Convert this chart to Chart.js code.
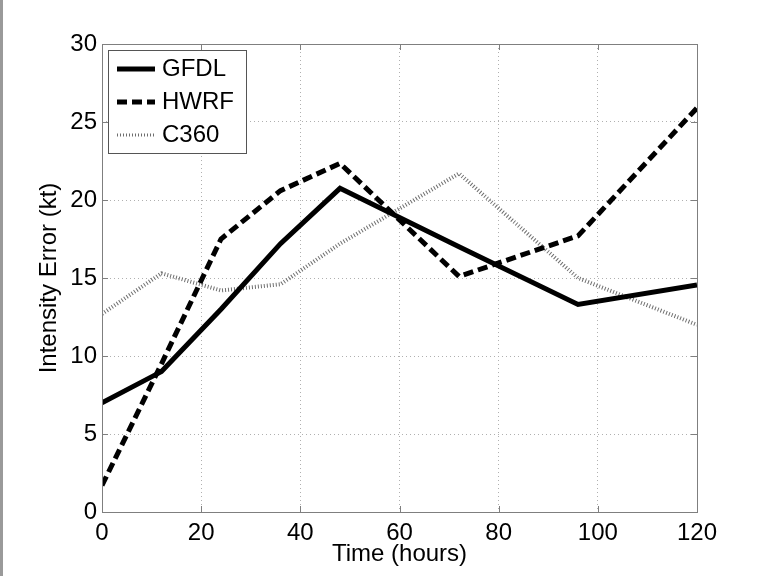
<!DOCTYPE html>
<html>
<head>
<meta charset="utf-8">
<script src="https://cdn.jsdelivr.net/npm/chart.js@4/dist/chart.umd.min.js"></script>
<style>
  html, body { margin: 0; padding: 0; background: #fff; }
  #wrap { width: 769px; height: 576px; position: relative; }
</style>
</head>
<body>
<div id="wrap"><canvas id="c" width="769" height="576"></canvas></div>
<script>
// valeurs
const hours = [0, 12, 24, 36, 48, 72, 96, 120];
const gfdl = [7.0, 9.0, 13.0, 17.2, 20.75, 17.0, 13.3, 14.55];
const hwrf = [1.7, 9.5, 17.5, 20.6, 22.35, 15.1, 17.7, 25.9];
const c360 = [12.7, 15.3, 14.2, 14.6, 17.2, 21.7, 15.0, 12.0];
const xTicks = [0, 20, 40, 60, 80, 100, 120];
const yTicks = [0, 5, 10, 15, 20, 25, 30];

const FONT = 'Liberation Sans, Arial, Helvetica, sans-serif';

function pts(ys) {
  return hours.map((h, i) => ({ x: h, y: ys[i] }));
}

const series = [
  { label: 'GFDL', data: gfdl, color: '#000', width: 5, dash: [] },
  { label: 'HWRF', data: hwrf, color: '#000', width: 5, dash: [10, 5] },
  { label: 'C360', data: c360, color: '#6e6e6e', width: 4, dash: [1, 2] }
];

// cadre, petites graduations et légende façon matlab
const matlabBox = {
  id: 'matlabBox',
  beforeDraw(chart) {
    const ctx = chart.ctx;
    ctx.save();
    ctx.fillStyle = '#9a9a9a';
    ctx.fillRect(0, 0, 3, chart.height);
    ctx.restore();
  },
  afterDraw(chart) {
    const { ctx, chartArea: a } = chart;
    const xs = chart.scales.x, ys = chart.scales.y;
    ctx.save();
    ctx.strokeStyle = '#7f7f7f';
    ctx.lineWidth = 1;
    ctx.setLineDash([]);
    ctx.strokeRect(a.left + 0.5, a.top + 0.5, a.right - a.left, a.bottom - a.top);
    const tl = 6;
    ctx.beginPath();
    xTicks.forEach(v => {
      const px = Math.round(xs.getPixelForValue(v)) + 0.5;
      ctx.moveTo(px, a.bottom); ctx.lineTo(px, a.bottom - tl);
      ctx.moveTo(px, a.top); ctx.lineTo(px, a.top + tl);
    });
    yTicks.forEach(v => {
      const py = Math.round(ys.getPixelForValue(v)) + 0.5;
      ctx.moveTo(a.left, py); ctx.lineTo(a.left + tl, py);
      ctx.moveTo(a.right, py); ctx.lineTo(a.right - tl, py);
    });
    ctx.stroke();

    // légende
    const bx = a.left + 6, by = a.top + 6, bw = 138, bh = 103;
    ctx.fillStyle = '#fff';
    ctx.fillRect(bx, by, bw, bh);
    ctx.strokeStyle = '#555';
    ctx.strokeRect(bx + 0.5, by + 0.5, bw, bh);
    const rows = [69, 102, 135];
    ctx.font = '24px ' + FONT;
    ctx.textBaseline = 'middle';
    series.forEach((s, i) => {
      const y = rows[i];
      ctx.beginPath();
      ctx.strokeStyle = s.color;
      ctx.lineWidth = i === 2 ? 3 : s.width;
      ctx.setLineDash(s.dash);
      ctx.moveTo(117, y); ctx.lineTo(155, y);
      ctx.stroke();
      ctx.setLineDash([]);
      ctx.fillStyle = '#000';
      ctx.fillText(s.label, 162, y);
    });
    ctx.restore();
  }
};

new Chart(document.getElementById('c'), {
  type: 'line',
  data: {
    datasets: series.map(s => ({
      label: s.label,
      data: pts(s.data),
      borderColor: s.color,
      borderWidth: s.width,
      borderDash: s.dash,
      pointRadius: 0,
      tension: 0,
      fill: false
    }))
  },
  options: {
    responsive: false,
    animation: false,
    layout: { padding: { left: 0, top: 44, right: 72, bottom: 0 } },
    plugins: { legend: { display: false }, tooltip: { enabled: false } },
    scales: {
      x: {
        type: 'linear', min: 0, max: 120,
        afterFit(s) { s.height = 64; },
        afterBuildTicks(s) { s.ticks = xTicks.map(v => ({ value: v })); },
        ticks: { color: '#000', padding: 7, font: { family: FONT, size: 24 } },
        grid: { color: '#b0b0b0', drawTicks: false },
        border: { display: false, dash: [1, 3] },
        title: { display: true, text: 'Time (hours)', color: '#000', padding: { top: 0, bottom: 7 }, font: { family: FONT, size: 24 } }
      },
      y: {
        type: 'linear', min: 0, max: 30,
        afterFit(s) { s.width = 102; },
        afterBuildTicks(s) { s.ticks = yTicks.map(v => ({ value: v })); },
        ticks: { color: '#000', padding: 5, font: { family: FONT, size: 24 } },
        grid: { color: '#b0b0b0', drawTicks: false },
        border: { display: false, dash: [1, 3] },
        title: { display: true, text: 'Intensity Error (kt)', color: '#000', padding: { top: 35, bottom: 0 }, font: { family: FONT, size: 24 } }
      }
    }
  },
  plugins: [matlabBox]
});
</script>
</body>
</html>
